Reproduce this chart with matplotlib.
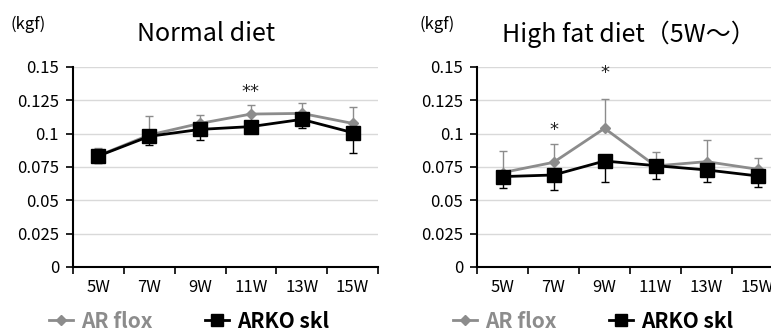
import matplotlib
matplotlib.use("Agg")
import matplotlib.pyplot as plt
from matplotlib.lines import Line2D
from matplotlib.ticker import FixedLocator

plt.rcParams['font.family'] = ['Noto Sans CJK JP', 'DejaVu Sans']

weeks = ["5W", "7W", "9W", "11W", "13W", "15W"]
y_ticks = [0, 0.025, 0.05, 0.075, 0.1, 0.125, 0.15]
y_labels = ["0", "0.025", "0.05", "0.075", "0.1", "0.125", "0.15"]

# Normal diet
nd_flox = [0.0835, 0.099, 0.1077, 0.1147, 0.1152, 0.1077]
nd_flox_err = [0.006, 0.014, 0.0063, 0.0068, 0.0075, 0.0125]
nd_arko = [0.0833, 0.098, 0.1032, 0.1053, 0.1107, 0.1008]
nd_arko_err = [0.0056, 0.0065, 0.008, 0.005, 0.0067, 0.015]

# High fat diet
hf_flox = [0.0708, 0.0785, 0.104, 0.0758, 0.079, 0.0733]
hf_flox_err = [0.0165, 0.0135, 0.022, 0.0102, 0.016, 0.0087]
hf_arko = [0.0678, 0.069, 0.0795, 0.076, 0.0728, 0.0683]
hf_arko_err = [0.0083, 0.0112, 0.0155, 0.01, 0.0093, 0.0083]

# significance marks: (index, y, text)
nd_marks = [(3, 0.131, "**")]
hf_marks = [(1, 0.1025, "*"), (2, 0.1455, "*")]

GRAY = "#8c8c8c"


def draw_panel(ax, flox, flox_err, arko, arko_err, marks, leg_x):
    x = list(range(len(weeks)))
    ax.errorbar(x, flox, yerr=[[0] * len(flox), flox_err], color=GRAY, lw=2,
                marker="D", ms=5, capsize=3, elinewidth=1, capthick=1, zorder=3)
    ax.errorbar(x, arko, yerr=[arko_err, [0] * len(arko)], color="black", lw=2,
                marker="s", ms=10, capsize=3, elinewidth=1, capthick=1, zorder=4)
    for i, yv, txt in marks:
        ax.text(i, yv, txt, ha="center", va="center", fontsize=13,
                color="#222222", family="DejaVu Sans")
    ax.set_xlim(-0.5, len(weeks) - 0.5)
    ax.set_ylim(0, 0.15)
    ax.set_xticks(x)
    ax.set_xticklabels(weeks, fontsize=12)
    ax.xaxis.set_minor_locator(FixedLocator([i - 0.5 for i in range(len(weeks) + 1)]))
    ax.tick_params(axis="x", which="major", length=0, pad=9)
    ax.tick_params(axis="x", which="minor", length=5, width=1.2, direction="out")
    ax.set_yticks(y_ticks)
    ax.set_yticklabels(y_labels, fontsize=12)
    ax.tick_params(axis="y", length=5, width=1.2, direction="out", pad=5)
    ax.grid(axis="y", color="#d9d9d9", lw=1)
    ax.set_axisbelow(True)
    for s in ("top", "right"):
        ax.spines[s].set_visible(False)
    for s in ("left", "bottom"):
        ax.spines[s].set_linewidth(1.5)
    handles = [Line2D([], [], color=GRAY, lw=2, marker="D", ms=5),
               Line2D([], [], color="black", lw=2, marker="s", ms=9)]
    leg = ax.legend(handles, ["AR flox", "ARKO skl"], loc="center left",
                    bbox_to_anchor=(leg_x, 1 - 321 / 335),
                    bbox_transform=ax.figure.transFigure, ncol=2, frameon=False,
                    borderpad=0, borderaxespad=0, handlelength=1.15,
                    columnspacing=2.5, handletextpad=0.4,
                    prop={"weight": "bold", "size": 15})
    for t, c in zip(leg.get_texts(), [GRAY, "black"]):
        t.set_color(c)


fig = plt.figure(figsize=(7.71, 3.35), dpi=100)
ax1 = fig.add_axes([0.0947, 0.203, 0.3956, 0.597])
ax2 = fig.add_axes([0.6187, 0.203, 0.397, 0.597])

draw_panel(ax1, nd_flox, nd_flox_err, nd_arko, nd_arko_err, nd_marks, 49 / 771)
draw_panel(ax2, hf_flox, hf_flox_err, hf_arko, hf_arko_err, hf_marks, 453 / 771)

fig.text(206 / 771, 1 - 34 / 335, "Normal diet", ha="center", va="center", fontsize=18)
fig.text(629 / 771, 1 - 34 / 335, "High fat diet（5W～）", ha="center", va="center", fontsize=18)
fig.text(11 / 771, 1 - 24 / 335, "(kgf)", ha="left", va="center", fontsize=12)
fig.text(420 / 771, 1 - 24 / 335, "(kgf)", ha="left", va="center", fontsize=12)

fig.savefig("out.png", dpi=100)
